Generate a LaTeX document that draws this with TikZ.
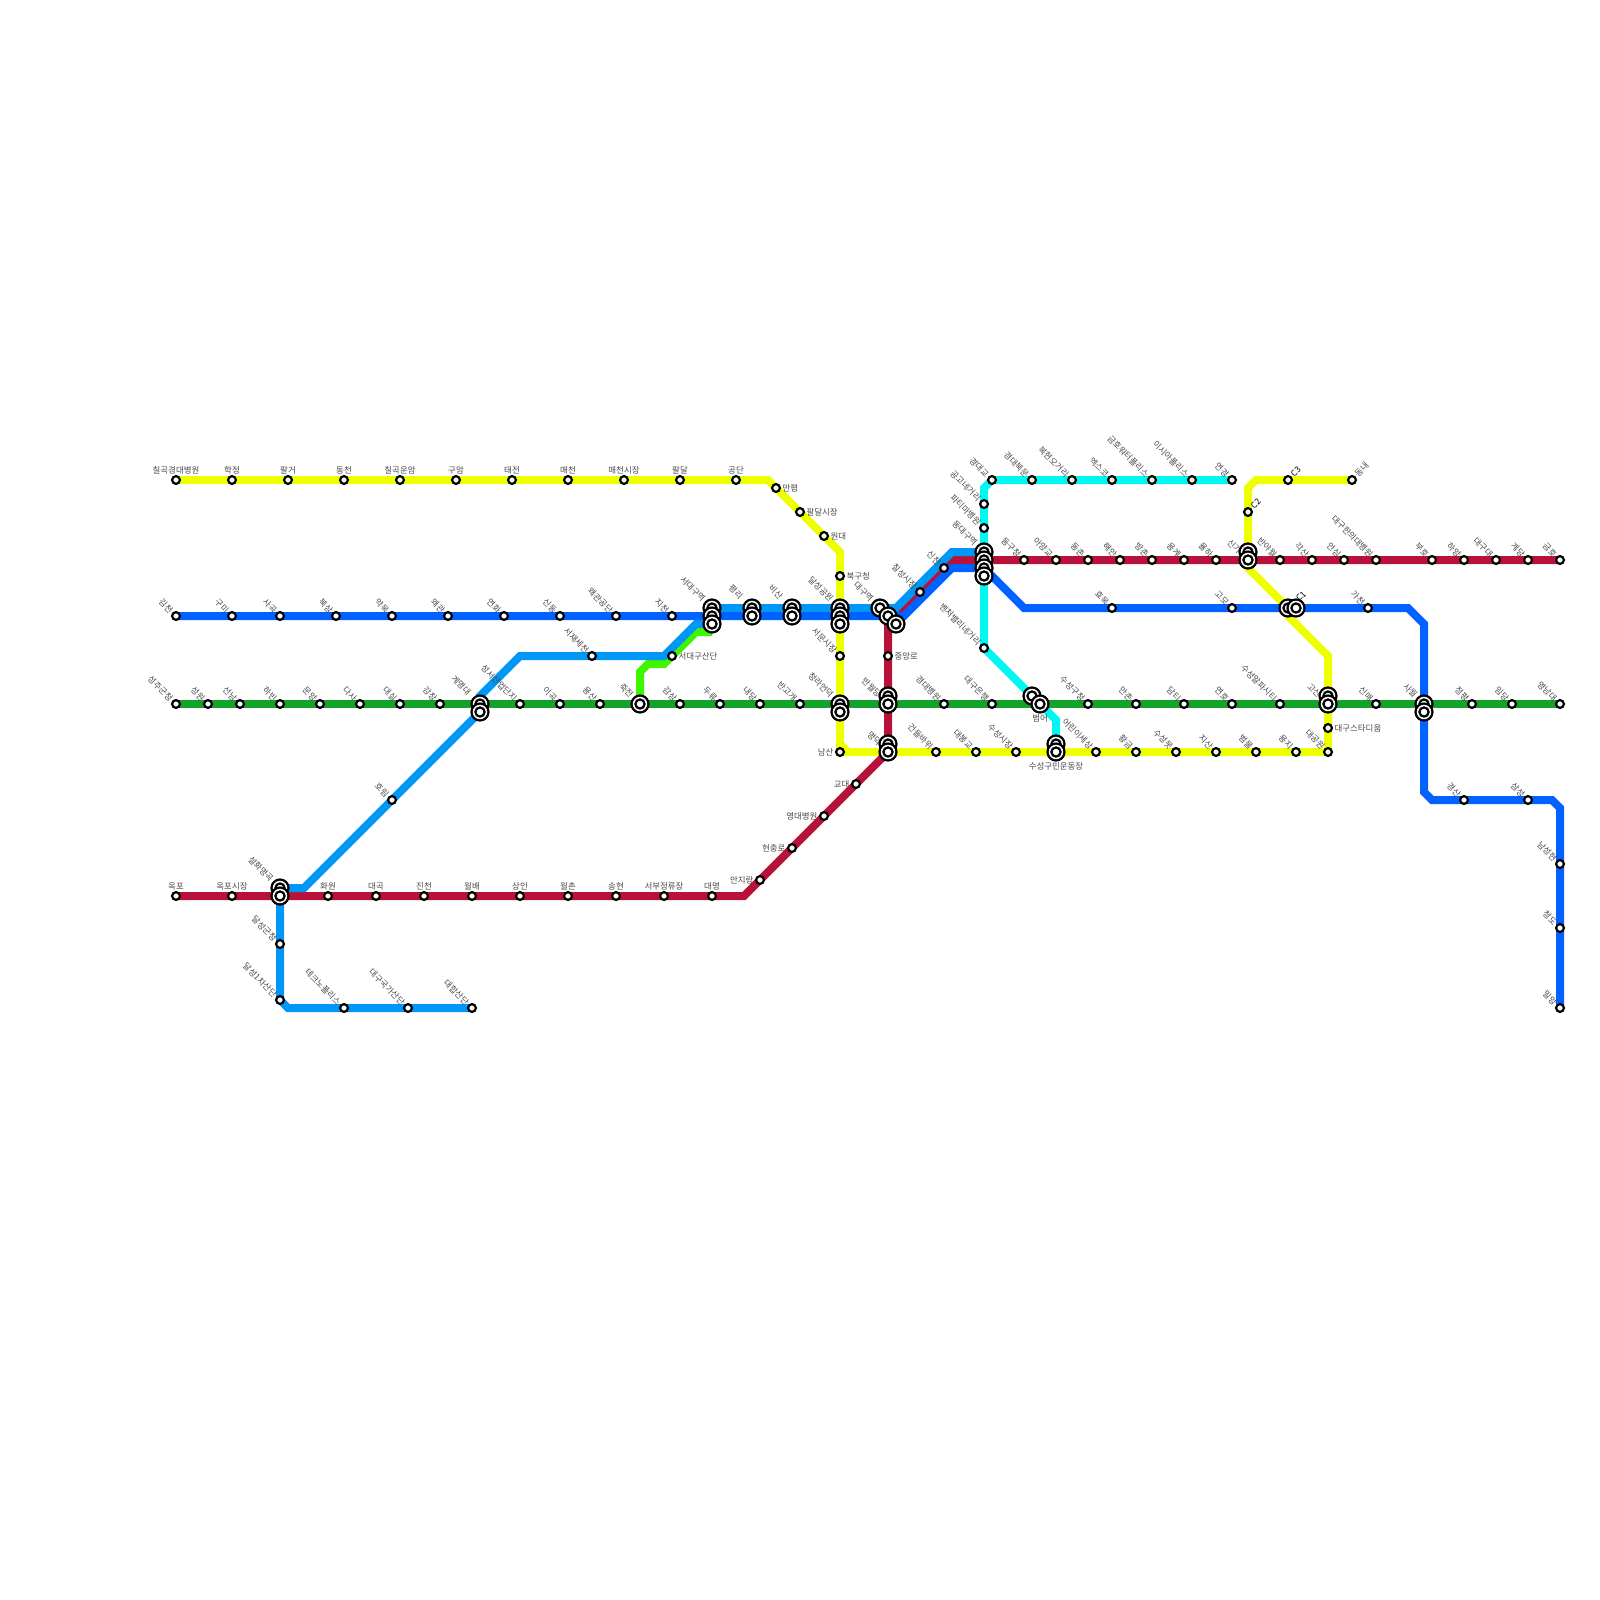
\documentclass[tikz,border=0pt]{standalone}
\usepackage{fontspec}
\setmainfont{Noto Sans CJK KR}
\definecolor{lineyellow}{HTML}{EEFF00}
\definecolor{linelime}{HTML}{3FF500}
\definecolor{lineaqua}{HTML}{0097F7}
\definecolor{linecyan}{HTML}{00F8F0}
\definecolor{linered}{HTML}{B8123A}
\definecolor{lineblue}{HTML}{0062FF}
\definecolor{linegreen}{HTML}{14A22A}
\definecolor{labelgray}{HTML}{484848}

% name/x/y/label style/text, on a grid of 8 px
\newcommand{\stoplist}{
chilgok/22/60/ab/칠곡경대병원, hakjeong/29/60/ab/학정, palgeo/36/60/ab/팔거, dongcheon/43/60/ab/동천,
unam/50/60/ab/칠곡운암, guam/57/60/ab/구암, taejeon/64/60/ab/태전, maecheon/71/60/ab/매천,
maemarket/78/60/ab/매천시장, paldal/85/60/ab/팔달, gongdan/92/60/ab/공단, manpyeong/97/61/rt/만평,
palmarket/100/64/rt/팔달시장, wondae/103/67/rt/원대, bukgu/105/72/rt/북구청, seomun/105/82/tl/서문시장,
namsan/105/94/lf/남산, geondeul/117/94/tl/건들바위, daebong/122/94/tl/대봉교, sumarket/127/94/tl/수성시장,
children/137/94/tl/어린이세상, hwanggeum/142/94/tl/황금, sumot/147/94/tl/수성못, jisan/152/94/tl/지산,
beommul/157/94/tl/범물, yongji/162/94/tl/용지, daegong/166/94/tl/대공원, stadium/166/91/rt/대구스타디움,
ctwo/156/64/trk/C2, cthree/161/60/trk/C3, dongnae/169/60/tr/동내,
gimcheon/22/77/tl/김천, gumi/29/77/tl/구미, sagok/35/77/tl/사곡, buksam/42/77/tl/북삼,
yakmok/49/77/tl/약목, waegwan/56/77/tl/왜관, yeonhwa/63/77/tl/연화, sindong/70/77/tl/신동,
waegong/77/77/tl/왜관공단, jicheon/84/77/tl/지천, chilseong/115/74/tl/칠성시장, sincheon/118/71/tl/신천,
hyomok/139/76/tl/효목, gomo/154/76/tl/고모, gacheon/171/76/tl/가천, gyeongsan/183/100/tl/경산,
samseong/191/100/tl/삼성, namseong/195/108/tl/남성현, cheongdo/195/116/tl/청도, miryang/195/126/tl/밀양,
seongju/22/88/tl/성주군청, seongwon/26/88/tl/성원, seonnam/30/88/tl/선남, habin/35/88/tl/하빈,
munyang/40/88/tl/문양, dasa/45/88/tl/다사, daesil/50/88/tl/대실, gangchang/55/88/tl/강창,
seongseo/65/88/tl/성서산업단지, igok/70/88/tl/이곡, yongsan/75/88/tl/용산, gamsam/85/88/tl/감삼,
duryu/90/88/tl/두류, naedang/95/88/tl/내당, bangogae/100/88/tl/반고개, hospital/118/88/tl/경대병원,
bank/124/88/tl/대구은행, sugu/136/88/tl/수성구청, manchon/142/88/tl/만촌, damti/148/88/tl/담티,
yeonho/154/88/tl/연호, alpha/160/88/tl/수성알파시티, sinmae/172/88/tl/신매, jeongpyeong/184/88/tl/정평,
imdang/189/88/tl/임당, yeungnam/195/88/tl/영남대,
okpo/22/112/ab/옥포, okmarket/29/112/ab/옥포시장, hwawon/41/112/ab/화원, daegok/47/112/ab/대곡,
jincheon/53/112/ab/진천, wolbae/59/112/ab/월배, sangin/65/112/ab/상인, wolchon/71/112/ab/월촌,
songhyeon/77/112/ab/송현, terminal/83/112/ab/서부정류장, daemyeong/89/112/ab/대명, anjirang/95/110/lf/안지랑,
chungno/99/106/lf/현충로, yuhospital/103/102/lf/영대병원, gyodae/107/98/lf/교대, jungang/111/82/rt/중앙로,
donggu/128/70/tl/동구청, ayang/132/70/tl/아양교, dongchon/136/70/tl/동촌, haean/140/70/tl/해안,
bangchon/144/70/tl/방촌, yonggye/148/70/tl/용계, yulha/152/70/tl/율하, banyawol/160/70/tl/반야월,
gaksan/164/70/tl/각산, ansim/168/70/tl/안심, hanuidae/172/70/tl/대구한의대병원, buho/179/70/tl/부호,
hayang/183/70/tl/하양, daegudae/187/70/tl/대구대, gyedang/191/70/tl/계당, geumho/195/70/tl/금호,
daehap/59/126/tl/대합산단, national/51/126/tl/대구국가산단, techno/43/126/tl/테크노폴리스, firstind/35/125/tl/달성1차산단,
dalgun/35/118/tl/달성군청, horim/49/100/tl/호림, seojae/74/82/tl/서재세천, sanin/84/82/rt/서대구산단,
gyeongdaegyo/124/60/tl/경대교, bukmun/129/60/tl/경대북문, bokhyeon/134/60/tl/복현오거리, exco/139/60/tl/엑스코,
water/144/60/tl/금호워터폴리스, isia/149/60/tl/이시아폴리스, yeongyeong/154/60/tl/연경, gonggo/123/63/tl/공고네거리,
fatima/123/66/tl/파티마병원, venture/123/81/tl/벤처밸리네거리}

% interchange stations, drawn in this order
\newcommand{\hublist}{
seodaeguA/89/76, seodaeguB/89/77, seodaeguC/89/78, pyeongriA/94/76, pyeongriB/94/77, bisanA/99/76, bisanB/99/77,
dalseongA/105/76, dalseongB/105/77, dalseongC/105/78, daeguA/110/76, daeguB/111/77, daeguC/112/78,
dongdaeguA/123/69, dongdaeguB/123/70, dongdaeguC/123/71, dongdaeguD/123/72,
cheongnaA/105/88, cheongnaB/105/89, banwolA/111/87, banwolB/111/88, myeongdeokA/111/93, myeongdeokB/111/94,
keimyungA/60/88, keimyungB/60/89, seolhwaA/35/111, seolhwaB/35/112, jukjeon/80/88,
sugumA/132/93, sugumB/132/94, beomeoA/129/87, beomeoB/130/88, singiA/156/69, singiB/156/70,
coneA/161/76, coneB/162/76, gosanA/166/87, gosanB/166/88, sawolA/178/88, sawolB/178/89}

% hub/label style/text
\newcommand{\hubtexts}{
seodaeguA/tlb/서대구역, pyeongriA/tlc/평리, bisanA/tlc/비산, dalseongA/tlb/달성공원, daeguA/tlb/대구역,
dongdaeguA/tlb/동대구역, cheongnaA/tlb/청라언덕, banwolB/tlb/반월당, myeongdeokB/tlb/명덕, keimyungA/tlc/계명대,
seolhwaA/tlb/설화명곡, jukjeon/tlb/죽전, sugumB/bl/수성구민운동장, beomeoB/bl/범어, singiB/tlb/신기,
coneB/trb/C1, gosanB/tlb/고산, sawolA/tlb/사월}

% bends
\newcommand{\bendlist}{
ya/96/60, yb/105/69, yc/105/93, yd/106/94, ye/105/94, yf/166/82, yg/161/77, yh/161/76, yi/156/71, yj/156/61, yk/157/60, yl/166/94,
la/80/84, lb/81/83, lc/83/83, ld/87/79, le/89/79,
aa/36/126, ab/35/125, ac/35/111, ad/38/111, ae/60/89, af/60/87, ag/65/82, ah/83/82, ai/87/78, aj/89/78, ak/89/76, al/112/76, am/119/69,
ca/123/61, cb/132/90,
ra/93/112, rb/111/94, rc/111/78, rd/119/70,
ba/113/77, bb/119/71, bc/123/71, bd/128/76, be/176/76, bf/178/78, bg/178/99, bh/179/100, bi/194/100, bj/195/101}

\tikzset{
    stn/.style={circle, draw=black, fill=white, line width=0.055cm, minimum size=0.195cm, inner sep=0pt, outer sep=0pt},
    hub/.style={circle, draw=black, fill=white, line width=0.055cm, minimum size=0.425cm, inner sep=0pt, outer sep=0pt,
        path picture={\draw[line width=0.055cm, fill=white] (path picture bounding box.center) circle (0.115cm);}},
    route/.style={line width=0.2cm, line join=miter},
    txt/.style={font=\fontsize{6}{6}\selectfont, text=labelgray, inner sep=0pt},
    ab/.style={txt, yshift=0.25cm},
    bl/.style={txt, yshift=-0.35cm},
    rt/.style={txt, anchor=west, xshift=0.16cm},
    lf/.style={txt, anchor=east, xshift=-0.16cm},
    tl/.style={txt, xshift=-0.11cm, yshift=0.11cm, rotate=-45, anchor=east},
    tlb/.style={txt, xshift=-0.2cm, yshift=0.2cm, rotate=-45, anchor=east},
    tlc/.style={txt, xshift=-0.26cm, yshift=0.26cm, rotate=-45, anchor=east},
    tr/.style={txt, xshift=0.1cm, yshift=0.12cm, rotate=45, anchor=west},
    trk/.style={tr, text=black},
    trb/.style={txt, text=black, xshift=0.03cm, yshift=0.2cm, rotate=45, anchor=west}
}

\begin{document}
\begin{tikzpicture}[x=0.2cm, y=-0.2cm]
\useasboundingbox (0,0) rectangle (200,200);

\foreach \nm/\x/\y/\pos/\txt in \stoplist \coordinate (\nm) at (\x,\y);
\foreach \nm/\x/\y in \hublist \coordinate (\nm) at (\x,\y);
\foreach \nm/\x/\y in \bendlist \coordinate (\nm) at (\x,\y);

% Lines
\draw[route, lineyellow] (chilgok) -- (ya) -- (yb) -- (ye) -- (yd) -- (myeongdeokB) -- (yl) -- (yf) -- (yg) -- (yh) -- (yi) -- (singiB) -- (yj) -- (yk) -- (dongnae);
\draw[route, lineyellow] (yc) -- (yd);
\draw[route, linered] (okpo) -- (ra) -- (rb) -- (rc) -- (rd) -- (geumho);
\draw[route, linelime] (jukjeon) -- (la) -- (lb) -- (lc) -- (ld) -- (le);
\draw[route, lineaqua] (daehap) -- (aa) -- (ab) -- (ac) -- (ad) -- (ae) -- (af) -- (ag) -- (ah) -- (ai) -- (aj) -- (ak) -- (al) -- (am) -- (dongdaeguA);
\draw[route, linecyan] (yeongyeong) -- (gyeongdaegyo) -- (ca) -- (venture) -- (cb) -- (sugumA);
\draw[route, lineblue] (gimcheon) -- (ba) -- (bb) -- (bc) -- (bd) -- (be) -- (bf) -- (bg) -- (bh) -- (bi) -- (bj) -- (miryang);
\draw[route, linegreen] (seongju) -- (yeungnam);

% Labels
\foreach \nm/\x/\y/\pos/\txt in \stoplist \node[\pos] (t\nm) at (\nm) {\txt};
\foreach \nm/\pos/\txt in \hubtexts \node[\pos] (t\nm) at (\nm) {\txt};

% Stations
\foreach \nm/\x/\y/\pos/\txt in \stoplist \node[stn] (s\nm) at (\nm) {};
\foreach \nm/\x/\y in \hublist \node[hub] (s\nm) at (\nm) {};

\end{tikzpicture}
\end{document}
